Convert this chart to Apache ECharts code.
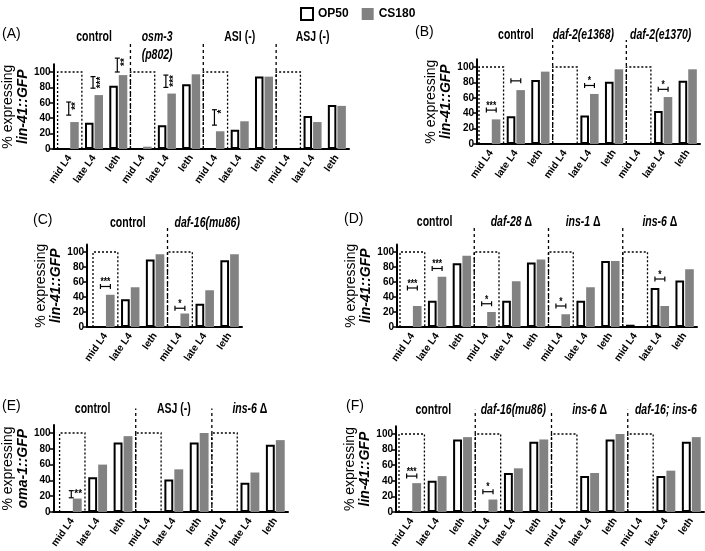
<!DOCTYPE html>
<html><head><meta charset="utf-8">
<script src="https://cdn.jsdelivr.net/npm/echarts@6/dist/echarts.min.js"></script>
<style>html,body{margin:0;padding:0;background:#fff}#c{width:705px;height:551px}</style>
</head><body><div id="c"></div>
<script>
// ---------------- DATA ----------------
const STAGES = ['mid L4', 'late L4', 'leth'];
const Y_TICKS = [0, 20, 40, 60, 80, 100];

// Panel A
const A_GROUPS = ['control', '{i|osm-3}\n{i|(p802)}', 'ASI (-)', 'ASJ (-)'];
const A_OP50  = [0, 34, 82,  0, 31, 84,  0, 25, 94,  0, 43, 57];
const A_CS180 = [35, 70, 96, 3, 72, 97, 23, 36, 94,  0, 35, 56];
const A_SIG = [[0, 44, 61], [1, 79, 94], [2, 100, 118], [4, 80, 96], [6, 31, 51]];
const A_SIG_LABELS = ['**', '***', '**', '***', '*'];

// Panel B
const B_GROUPS = ['control', '{i|daf-2(e1368)}', '{i|daf-2(e1370)}'];
const B_OP50  = [0, 36, 83,  0, 37, 81,  0, 43, 82];
const B_CS180 = [32, 70, 94, 0, 65, 97,  0, 61, 97];
const B_SIG = [[0, 44], [1, 82], [4, 76], [7, 71]];
const B_SIG_LABELS = ['***', '', '*', '*'];

// Panel C
const C_GROUPS = ['control', '{i|daf-16(mu86)}'];
const C_OP50  = [0, 37, 90,  0, 31, 89];
const C_CS180 = [43, 53, 97, 18, 49, 97];
const C_SIG = [[0, 54], [3, 25]];
const C_SIG_LABELS = ['***', '*'];

// Panel D
const D_GROUPS = ['control', '{i|daf-28} Δ', '{i|ins-1} Δ', '{i|ins-6} Δ'];
const D_OP50  = [0, 35, 85,  0, 35, 86,  0, 35, 88,  3, 52, 62];
const D_CS180 = [28, 67, 95, 20, 61, 90, 17, 53, 88,  0, 28, 77];
const D_SIG = [[0, 52], [1, 78], [3, 31], [6, 28], [10, 64]];
const D_SIG_LABELS = ['***', '***', '*', '*', '*'];

// Panel E
const E_GROUPS = ['control', 'ASJ (-)', '{i|ins-6} Δ'];
const E_OP50  = [0, 44, 88,  0, 41, 88,  0, 37, 85];
const E_CS180 = [17, 60, 96, 0, 54, 100, 0, 50, 91];
const E_SIG = [[0, 18, 27]];
const E_SIG_LABELS = ['**'];

// Panel F
const F_GROUPS = ['control', '{i|daf-16(mu86)}', '{i|ins-6} Δ', '{i|daf-16; ins-6}'];
const F_OP50  = [0, 40, 93,  0, 50, 90,  0, 46, 93,  0, 46, 90];
const F_CS180 = [37, 46, 96, 16, 56, 93, 0, 50, 100, 0, 53, 96];
const F_SIG = [[0, 46], [3, 26]];
const F_SIG_LABELS = ['***', '*'];

// ---------------- LAYOUT / STYLE ----------------
const FONT = "'Liberation Sans Narrow','Arial Narrow','Liberation Sans',Arial,sans-serif";
const GRAY = '#828282';
const TITLE_SCALE = 0.75;

const PANELS = [
  {tag: '(A)', tagPos: [2, 35], groups: A_GROUPS, op: A_OP50, cs: A_CS180, sig: A_SIG, sigLab: A_SIG_LABELS, sigMode: 'vrot',
   reporter: 'lin-41::GFP', grid: {left: 53, top: 64.3, width: 296, height: 84.7}, off: 4, titleV: 157, sepV: 138, titleDx: [0, -0.4, 0, 0]},
  {tag: '(B)', tagPos: [415, 33], groups: B_GROUPS, op: B_OP50, cs: B_CS180, sig: B_SIG, sigLab: B_SIG_LABELS, sigMode: 'h',
   reporter: 'lin-41::GFP', grid: {left: 479, top: 59.3, width: 221, height: 84.7}, off: 2, titleV: 153, sepV: 135, titleDx: [0, -0.25, -0.1]},
  {tag: '(C)', tagPos: [33, 221], groups: C_GROUPS, op: C_OP50, cs: C_CS180, sig: C_SIG, sigLab: C_SIG_LABELS, sigMode: 'h',
   reporter: 'lin-41::GFP', grid: {left: 93, top: 244.5, width: 149, height: 82.5}, off: 6, titleV: 150, sepV: 136, titleDx: [-0.1, 0.1]},
  {tag: '(D)', tagPos: [344, 220], groups: D_GROUPS, op: D_OP50, cs: D_CS180, sig: D_SIG, sigLab: D_SIG_LABELS, sigMode: 'h',
   reporter: 'lin-41::GFP', grid: {left: 400, top: 244.5, width: 297, height: 82.5}, off: 3, titleV: 152, sepV: 132, titleDx: [-0.1, 0, -0.1, 0]},
  {tag: '(E)', tagPos: [2, 407], groups: E_GROUPS, op: E_OP50, cs: E_CS180, sig: E_SIG, sigLab: E_SIG_LABELS, sigMode: 'v',
   reporter: 'oma-1::GFP', grid: {left: 58.5, top: 425.1, width: 229.5, height: 86.9}, off: 6, titleV: 141, sepV: 131, titleDx: [-0.2, 0, 0]},
  {tag: '(F)', tagPos: [346, 407], groups: F_GROUPS, op: F_OP50, cs: F_CS180, sig: F_SIG, sigLab: F_SIG_LABELS, sigMode: 'h',
   reporter: 'lin-41::GFP', grid: {left: 399, top: 426.2, width: 305, height: 85.8}, off: 3, titleV: 142, sepV: 131, titleDx: [-0.15, 0, 0, 0]}
];

function makeDeco(p) {
  return function (params, api) {
    const g = params.dataIndex;
    const cat0 = api.value(0);
    const band = api.size([1, 0])[0];
    const p0 = api.coord([cat0, 0]);
    const p100 = api.coord([cat0, 100]);
    const left = p0[0] - band / 2, right = p0[0] + band / 2;
    const ch = [];
    ch.push({type: 'polyline', shape: {points: [[left, p0[1]], [left, p100[1]], [right, p100[1]], [right, p0[1]]]},
      style: {stroke: '#000', fill: null, lineWidth: 1.3, lineDash: [2, 2]}});
    if (g > 0) {
      const pt = api.coord([cat0, p.sepV]);
      ch.push({type: 'line', shape: {x1: left, y1: p0[1], x2: left, y2: pt[1]},
        style: {stroke: '#000', lineWidth: 1.3, lineDash: [3, 3]}});
    } else {
      ch.push({type: 'line', shape: {x1: left - p.off - 1, y1: p0[1], x2: left, y2: p0[1]},
        style: {stroke: '#000', lineWidth: 2}});
    }
    const tp = api.coord([cat0 + 1, p.titleV]);
    ch.push({type: 'text', x: tp[0] + (p.titleDx[g] || 0) * band, y: tp[1], scaleX: TITLE_SCALE,
      style: {text: p.groups[g], fill: '#000', fontSize: 14, fontWeight: 'bold', fontFamily: FONT,
        align: 'center', verticalAlign: 'top', lineHeight: 18,
        rich: {i: {fontStyle: 'italic', fontWeight: 'bold', fontSize: 14, fontFamily: FONT, lineHeight: 18}}}});
    return {type: 'group', children: ch};
  };
}

function makeSig(p) {
  return function (params, api) {
    const lab = p.sigLab[params.dataIndex];
    const cat = api.value(0);
    const band = api.size([1, 0])[0];
    const ch = [];
    const ls = {stroke: '#000', lineWidth: 1.2};
    if (p.sigMode === 'h') {
      const c = api.coord([cat, api.value(1)]);
      const half = band * 0.2;
      ch.push({type: 'line', shape: {x1: c[0] - half, y1: c[1], x2: c[0] + half, y2: c[1]}, style: ls});
      ch.push({type: 'line', shape: {x1: c[0] - half, y1: c[1] - 2.5, x2: c[0] - half, y2: c[1] + 2.5}, style: ls});
      ch.push({type: 'line', shape: {x1: c[0] + half, y1: c[1] - 2.5, x2: c[0] + half, y2: c[1] + 2.5}, style: ls});
      if (lab) ch.push({type: 'text', x: c[0], y: c[1] + 1, scaleX: 0.85, style: {text: lab, fill: '#000', fontSize: 10, fontWeight: 'bold', fontFamily: FONT, align: 'center', verticalAlign: 'bottom'}});
    } else {
      const lo = api.coord([cat, api.value(1)]);
      const hi = api.coord([cat, api.value(2)]);
      const x = lo[0] - 1;
      ch.push({type: 'line', shape: {x1: x, y1: lo[1], x2: x, y2: hi[1]}, style: ls});
      ch.push({type: 'line', shape: {x1: x - 2.5, y1: lo[1], x2: x + 2.5, y2: lo[1]}, style: ls});
      ch.push({type: 'line', shape: {x1: x - 2.5, y1: hi[1], x2: x + 2.5, y2: hi[1]}, style: ls});
      if (p.sigMode === 'vrot') {
        ch.push({type: 'text', x: x + 3, y: hi[1], rotation: Math.PI / 2,
          style: {text: lab, fill: '#000', fontSize: 10, fontWeight: 'bold', fontFamily: FONT, align: 'right', verticalAlign: 'top'}});
      } else {
        ch.push({type: 'text', x: x + 3, y: hi[1] - 1,
          style: {text: lab, fill: '#000', fontSize: 10, fontWeight: 'bold', fontFamily: FONT, align: 'left', verticalAlign: 'top'}});
      }
    }
    return {type: 'group', children: ch};
  };
}

const grids = [], xAxes = [], yAxes = [], series = [], graphics = [];
PANELS.forEach((p, i) => {
  grids.push(Object.assign({containLabel: false}, p.grid));
  const cats = [];
  p.groups.forEach(() => STAGES.forEach(s => cats.push(s)));
  xAxes.push({gridIndex: i, type: 'category', data: cats,
    axisLine: {lineStyle: {color: '#000', width: 2}},
    axisTick: {alignWithLabel: true, length: 4, lineStyle: {color: '#000', width: 1.5}},
    axisLabel: {interval: 0, rotate: 55, margin: 7, fontSize: 10, fontWeight: 'bold', fontFamily: FONT, color: '#000'}});
  yAxes.push({gridIndex: i, type: 'value', min: 0, max: 110, interval: 20, offset: p.off,
    splitLine: {show: false},
    axisLine: {show: true, lineStyle: {color: '#000', width: 2}},
    axisTick: {show: true, length: 4, customValues: Y_TICKS, lineStyle: {color: '#000', width: 1.5}},
    axisLabel: {customValues: Y_TICKS, margin: 3, fontSize: 10, fontWeight: 'bold', fontFamily: FONT, color: '#000'},
    name: '{a|% expressing}\n{b|' + p.reporter + '}', nameLocation: 'middle', nameRotate: 90, nameGap: 14,
    nameTextStyle: {rich: {
      a: {fontSize: 14, fontFamily: FONT, color: '#000', lineHeight: 15, align: 'center'},
      b: {fontSize: 14, fontFamily: FONT, fontStyle: 'italic', fontWeight: 'bold', color: '#000', lineHeight: 15, align: 'center'}}}});
  series.push({type: 'custom', xAxisIndex: i, yAxisIndex: i, silent: true, clip: false, z: 1,
    data: p.groups.map((_, g) => [g * 3, 0]), encode: {x: 0, y: 1}, renderItem: makeDeco(p)});
  series.push({type: 'bar', name: 'OP50', xAxisIndex: i, yAxisIndex: i, data: p.op, barWidth: '35%', barGap: '12%', z: 3,
    itemStyle: {color: '#fff', borderColor: '#000', borderWidth: 2}});
  series.push({type: 'bar', name: 'CS180', xAxisIndex: i, yAxisIndex: i, data: p.cs, barWidth: '35%', barGap: '12%', z: 3,
    itemStyle: {color: GRAY}});
  series.push({type: 'custom', xAxisIndex: i, yAxisIndex: i, silent: true, clip: false, z: 5,
    data: p.sig, encode: p.sigMode === 'h' ? {x: 0, y: 1} : {x: 0, y: [1, 2]}, renderItem: makeSig(p)});
  graphics.push({type: 'text', left: p.tagPos[0], top: p.tagPos[1] - 8,
    style: {text: p.tag, fontSize: 14, fontFamily: FONT, fill: '#000'}});
});

const chart = echarts.init(document.getElementById('c'), null, {renderer: 'canvas'});
chart.setOption({
  animation: false,
  backgroundColor: '#fff',
  legend: {left: 300, top: 7, padding: 0, icon: 'rect', itemWidth: 12, itemHeight: 12, itemGap: 13,
    textStyle: {fontSize: 12, fontWeight: 'bold', fontFamily: FONT, color: '#000', padding: [0, 0, 0, 0]},
    data: [{name: 'OP50', itemStyle: {color: '#fff', borderColor: '#000', borderWidth: 2}},
           {name: 'CS180', itemStyle: {color: GRAY}}]},
  grid: grids, xAxis: xAxes, yAxis: yAxes, series: series, graphic: graphics
});
</script></body></html>
